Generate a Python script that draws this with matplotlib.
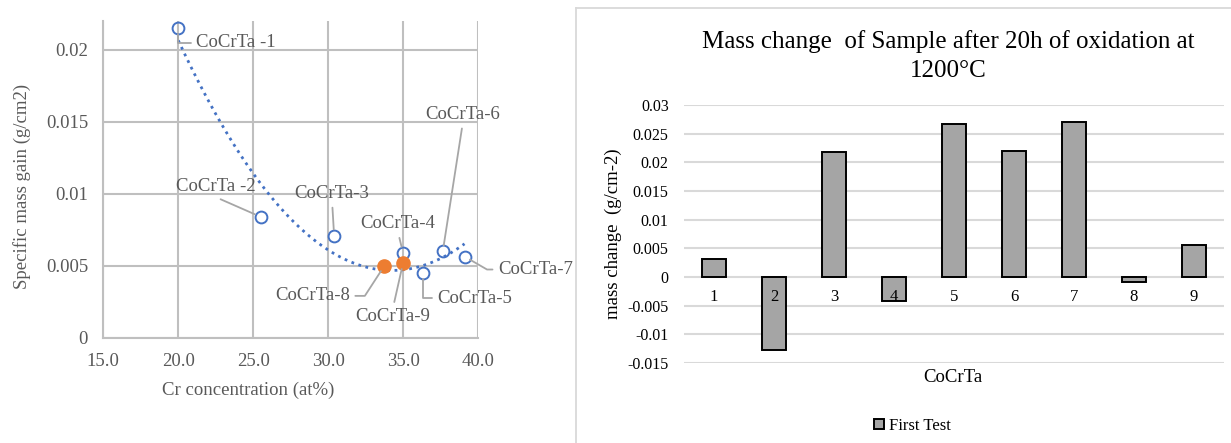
import matplotlib
matplotlib.use("Agg")
import matplotlib.pyplot as plt
import numpy as np
from matplotlib.lines import Line2D
from matplotlib.patches import Patch

plt.rcParams["font.family"] = ["Liberation Serif", "DejaVu Serif"]

# specific mass gain vs Cr content
cr_open = [20.0, 25.5, 30.4, 35.0, 36.3, 37.65, 39.1]
gain_open = [0.0215, 0.0084, 0.0071, 0.0059, 0.0045, 0.0060, 0.00565]
names_open = ["CoCrTa -1", "CoCrTa -2", "CoCrTa-3", "CoCrTa-4",
              "CoCrTa-5", "CoCrTa-6", "CoCrTa-7"]
cr_filled = [33.75, 35.0]
gain_filled = [0.0050, 0.0052]
names_filled = ["CoCrTa-8", "CoCrTa-9"]

x_ticks = [15.0, 20.0, 25.0, 30.0, 35.0, 40.0]
y_ticks = [0, 0.005, 0.01, 0.015, 0.02]
y_tick_labels = ["0", "0.005", "0.01", "0.015", "0.02"]

# mass change bar chart
samples = ["1", "2", "3", "4", "5", "6", "7", "8", "9"]
mass_change = [0.0031, -0.0127, 0.0218, -0.0042, 0.0266, 0.0219, 0.0270, -0.0009, 0.0055]
bar_ticks = [0.03, 0.025, 0.02, 0.015, 0.01, 0.005, 0, -0.005, -0.01, -0.015]
bar_tick_labels = ["0.03", "0.025", "0.02", "0.015", "0.01", "0.005", "0",
                   "-0.005", "-0.01", "-0.015"]

# label offsets (pixels), leader start on the text box, leader shape
label_style = {
    "CoCrTa -1": (58, -15, (0, 0.5), "angle,angleA=0,angleB=90,rad=0"),
    "CoCrTa -2": (-45, 30, (0.45, 0), "arc3"),
    "CoCrTa-3": (-2, 42, (0.5, 0), "arc3"),
    "CoCrTa-4": (-5, 29, (0.5, 0), "arc3"),
    "CoCrTa-5": (52, -25, (0, 0.5), "angle,angleA=0,angleB=90,rad=0"),
    "CoCrTa-6": (20, 137, (0.5, 0), "arc3"),
    "CoCrTa-7": (71, -13, (0, 0.5), "angle,angleA=0,angleB=-30,rad=0"),
    "CoCrTa-8": (-72, -30, (1, 0.5), "angle,angleA=0,angleB=57,rad=0"),
    "CoCrTa-9": (-10, -53, (0.5, 1), "arc3"),
}

W, H = 1231, 443
fig = plt.figure(figsize=(W / 100, H / 100), dpi=100)

# ---- left: scatter with trendline ----
ax1 = fig.add_axes([103.3 / W, 1 - 338 / H, 374.7 / W, 317.3 / H])
grey_txt = "#595959"
grid_c = "#bfbfbf"

ax1.set_xlim(15, 40)
ax1.set_ylim(0, 0.022)
ax1.set_xticks(x_ticks)
ax1.set_xticklabels(["%.1f" % v for v in x_ticks])
ax1.set_yticks(y_ticks)
ax1.set_yticklabels(y_tick_labels)
ax1.tick_params(length=0, labelsize=13.5, labelcolor=grey_txt)
ax1.tick_params(axis="x", pad=11)
ax1.tick_params(axis="y", pad=11)
ax1.grid(True, color=grid_c, lw=1.5)
ax1.set_axisbelow(True)
for side in ["top", "right"]:
    ax1.spines[side].set_visible(False)
for side in ["left", "bottom"]:
    ax1.spines[side].set_color(grid_c)
    ax1.spines[side].set_linewidth(1.5)

coef = np.polyfit(cr_open, gain_open, 2)
xs = np.linspace(min(cr_open), max(cr_open), 200)
ax1.plot(xs, np.polyval(coef, xs), ls=":", color="#4472C4", lw=2, zorder=2)

ax1.plot(cr_open, gain_open, "o", ms=8.5, mfc="none", mec="#4472C4", mew=1.4, zorder=3)
ax1.plot(cr_filled, gain_filled, "o", ms=9.5, mfc="#ED7D31", mec="#ED7D31", zorder=3)

for name, x, y in zip(names_open + names_filled, cr_open + cr_filled, gain_open + gain_filled):
    dx, dy, rel, cs = label_style[name]
    ax1.annotate(name, xy=(x, y), xytext=(dx, dy), textcoords="offset pixels",
                 ha="center", va="center", fontsize=13.5, color=grey_txt,
                 annotation_clip=False,
                 arrowprops=dict(arrowstyle="-", color="#a6a6a6", lw=1.3,
                                 shrinkA=2, shrinkB=4.5, relpos=rel,
                                 connectionstyle=cs))

ax1.set_xlabel("Cr concentration (at%)", fontsize=13.5, color=grey_txt)
ax1.xaxis.label.set_va("center")
ax1.xaxis.set_label_coords(0.386, -0.164)
ax1.set_ylabel("Specific mass gain (g/cm2)", fontsize=13.5, color=grey_txt)
ax1.yaxis.label.set_va("center")
ax1.yaxis.set_label_coords(-0.218, 0.477)

# ---- right: bar chart ----
ax2 = fig.add_axes([684 / W, 1 - 363 / H, 540 / W, 258 / H])
pos = np.arange(len(samples))
ax2.bar(pos, mass_change, width=0.415, color="#a5a5a5", edgecolor="black",
        linewidth=1.4, zorder=3)
ax2.set_xlim(-0.5, len(samples) - 0.5)
ax2.set_ylim(-0.015, 0.03)
ax2.set_yticks(bar_ticks)
ax2.set_yticklabels(bar_tick_labels)
ax2.set_xticks([])
for side in ["top", "right", "left", "bottom"]:
    ax2.spines[side].set_visible(False)
ax2.tick_params(length=0)
ax2.tick_params(axis="y", labelsize=11.5, pad=11)
ax2.yaxis.grid(True, color="#d9d9d9", lw=1.5)
ax2.set_axisbelow(True)

# category labels sit just under the zero line, drawn over the bars
for p, s in zip(pos, samples):
    ax2.annotate(s, xy=(p, 0), xytext=(0, -20), textcoords="offset pixels",
                 ha="center", va="center", fontsize=12, zorder=5)

ax2.set_ylabel("mass change  (g/cm-2)", fontsize=13.5)
ax2.yaxis.label.set_va("center")
ax2.yaxis.set_label_coords(-0.1315, 0.5)

fig.text(953 / W, 1 - 377 / H, "CoCrTa", ha="center", va="center", fontsize=13.5)
fig.text(948 / W, 1 - 56 / H, "Mass change  of Sample after 20h of oxidation at\n1200°C",
         ha="center", va="center", fontsize=18, linespacing=1.45)

fig.legend(handles=[Patch(facecolor="#a5a5a5", edgecolor="black", linewidth=1.4,
                          label="First Test")],
           loc="center", bbox_to_anchor=(912 / W, 1 - 425.7 / H), frameon=False,
           handlelength=0.6, handleheight=0.6, handletextpad=0.3, fontsize=12)

# chart frame around the bar chart
fx = 576 / W
fy = 1 - 8 / H
fig.add_artist(Line2D([fx, fx], [0, fy], transform=fig.transFigure, color="#d9d9d9", lw=1.3))
fig.add_artist(Line2D([fx, 1], [fy, fy], transform=fig.transFigure, color="#d9d9d9", lw=1.3))

fig.savefig("out.png", dpi=100)
